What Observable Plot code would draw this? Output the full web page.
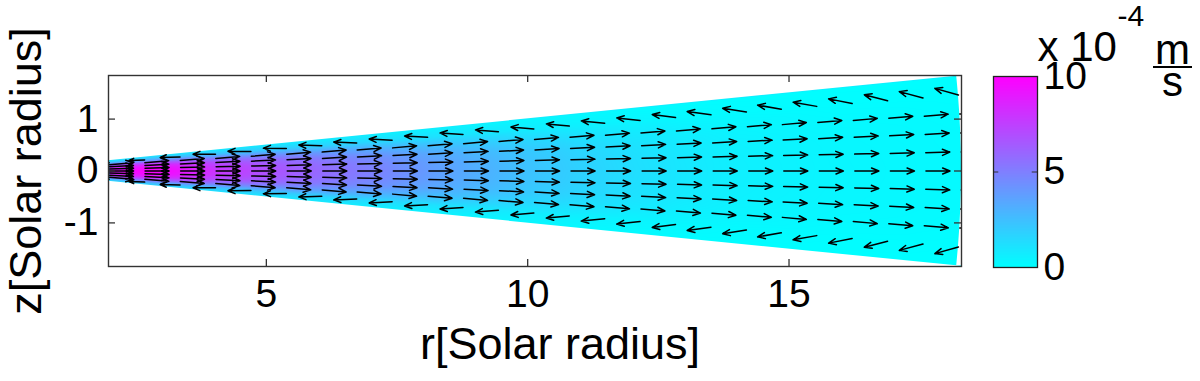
<!DOCTYPE html>
<html><head><meta charset="utf-8">
<script src="https://cdn.jsdelivr.net/npm/d3@7"></script>
<script src="https://cdn.jsdelivr.net/npm/@observablehq/plot@0.6"></script>
<style>
body{margin:0;background:#fff;}
#wrap{position:relative;width:1200px;height:381px;overflow:hidden;background:#fff;}
#wrap svg{position:absolute;left:0;top:0;}
#fracbar{position:absolute;left:1153px;top:66px;width:39px;height:2px;background:#000;}
</style></head><body><div id="wrap"><div id="fracbar"></div></div>
<script>
// ---- axes ----
const xDomain = [1.98, 18.3];
const zDomain = [-1.84, 1.84];
const xTicks = [5, 10, 15];
const zTicks = [-1, 0, 1];
const colorTicks = [0, 5, 10];
const colorDomain = [0, 10];
const xLabel = "r[Solar radius]";
const zLabel = "z[Solar radius]";

// ---- wedge geometry ----
const wedgeHalfAngle = 0.1;
const rInner = 2.0;
const rOuter = 18.3;

// ---- speed field (x 10^-4 m/s), read from the shading ----
const fieldR = [2.0, 2.4, 2.8, 3.2, 3.6, 4.0, 4.5, 5.0, 5.5, 6.0, 6.5, 7.0, 7.5, 8.0, 9.0, 10.0, 11.0, 12.0, 13.0, 14.0, 16.0, 18.3];
const fieldMid = [8.8, 9.6, 10.0, 9.5, 8.8, 8.0, 7.4, 6.9, 6.4, 5.9, 5.4, 5.0, 4.5, 4.0, 3.2, 2.4, 1.8, 1.3, 0.9, 0.6, 0.35, 0.2];
const fieldTheta = [0, 0.02, 0.04, 0.06, 0.08, 0.1];
const fieldShape = [1, 0.97, 0.88, 0.65, 0.3, 0.12];

// ---- velocity arrows (quiver) ----
const arrowR = [2.00, 2.68, 3.36, 4.04, 4.72, 5.40, 6.08, 6.75, 7.43, 8.11, 8.79, 9.47, 10.15, 10.83, 11.51, 12.19, 12.87, 13.55, 14.23, 14.90, 15.58, 16.26, 16.94, 17.62, 18.30];
const forwardTheta = [-0.06, -0.04, -0.02, 0, 0.02, 0.04, 0.06];
const forwardTilt = [-0.085, -0.055, -0.025, 0, 0.025, 0.055, 0.085];
const forwardLength = 0.46;
const backTheta = [-0.08, 0.08];
const backTilt = [-0.05, -0.04, -0.02, 0, 0.01, 0.02, 0.03, 0.04, 0.05, 0.06, 0.07, 0.08, 0.085, 0.095, 0.10, 0.107, 0.133, 0.14, 0.157, 0.173, 0.18, 0.2, 0.257, 0.267, 0.286];
const backLength = [0.25, 0.3, 0.38, 0.43, 0.44, 0.44, 0.44, 0.44, 0.44, 0.44, 0.44, 0.44, 0.44, 0.44, 0.45, 0.45, 0.45, 0.46, 0.46, 0.46, 0.46, 0.46, 0.46, 0.47, 0.47];

// ---- build tables ----
const field = [];
fieldR.forEach((r, i) => {
  fieldTheta.forEach((t, j) => {
    const signs = t === 0 ? [1] : [1, -1];
    for (const s of signs) {
      const th = s * t;
      field.push({x: r * Math.cos(th), z: r * Math.sin(th), v: fieldMid[i] * fieldShape[j]});
    }
  });
});

const arrows = [];
arrowR.forEach((r, k) => {
  forwardTheta.forEach((th, j) => {
    const x = r * Math.cos(th), z = r * Math.sin(th);
    const a = Math.atan(forwardTilt[j]);
    arrows.push({x1: x, y1: z, x2: x + forwardLength * Math.cos(a), y2: z + forwardLength * Math.sin(a)});
  });
  backTheta.forEach((th) => {
    const x = r * Math.cos(th), z = r * Math.sin(th);
    const a = Math.atan(backTilt[k]);
    const s = Math.sign(th);
    arrows.push({x1: x, y1: z, x2: x - backLength[k] * Math.cos(a), y2: z + s * backLength[k] * Math.sin(a)});
  });
});

const edge = [xDomain[0] - 0.2, xDomain[1] + 0.2].map(x => ({x, top: x * Math.tan(wedgeHalfAngle), bottom: -x * Math.tan(wedgeHalfAngle)}));
const arc = [...fieldTheta.slice(1).reverse().map(t => -t), ...fieldTheta].map(t => ({x: rOuter * Math.cos(t), z: rOuter * Math.sin(t)}));

const tickLenX = (zDomain[1] - zDomain[0]) / 191 * 7;
const tickLenY = (xDomain[1] - xDomain[0]) / 853 * 7;

const font = "'Liberation Sans', Arial, sans-serif";
const colorScale = {type: "linear", domain: colorDomain, range: ["#00ffff", "#ff00ff"], interpolate: "rgb"};

const main = Plot.plot({
  width: 1200, height: 381,
  marginLeft: 108, marginRight: 239, marginTop: 75, marginBottom: 115,
  x: {domain: xDomain, axis: null},
  y: {domain: zDomain, axis: null},
  color: colorScale,
  style: {fontFamily: font, background: "transparent", color: "#000", overflow: "visible"},
  marks: [
    Plot.raster(field, {x: "x", y: "z", fill: "v", interpolate: "barycentric", pixelSize: 1}),
    Plot.areaY(edge, {x: "x", y1: "top", y2: () => zDomain[1] + 0.5, fill: "white", clip: true}),
    Plot.areaY(edge, {x: "x", y1: "bottom", y2: () => zDomain[0] - 0.5, fill: "white", clip: true}),
    Plot.areaX(arc, {y: "z", x1: "x", x2: () => xDomain[1] + 0.5, fill: "white", clip: true}),
    Plot.arrow(arrows, {x1: "x1", y1: "y1", x2: "x2", y2: "y2", stroke: "#000", strokeWidth: 1.5, headLength: 8, headAngle: 45, clip: true}),
    Plot.ruleX(xTicks, {x: d => d, y1: () => zDomain[0], y2: () => zDomain[0] + tickLenX, stroke: "#333", strokeWidth: 1.3}),
    Plot.ruleX(xTicks, {x: d => d, y1: () => zDomain[1], y2: () => zDomain[1] - tickLenX, stroke: "#333", strokeWidth: 1.3}),
    Plot.ruleY(zTicks, {y: d => d, x1: () => xDomain[0], x2: () => xDomain[0] + tickLenY, stroke: "#333", strokeWidth: 1.3}),
    Plot.ruleY(zTicks, {y: d => d, x1: () => xDomain[1], x2: () => xDomain[1] - tickLenY, stroke: "#333", strokeWidth: 1.3}),
    Plot.frame({stroke: "#333", strokeWidth: 1.4}),
    Plot.text(xTicks, {x: d => d, text: d => String(d), frameAnchor: "bottom", dy: 40, lineAnchor: "bottom", fontSize: 39, fill: "#000"}),
    Plot.text(zTicks, {y: d => d, text: d => (d < 0 ? "-" + Math.abs(d) : String(d)), frameAnchor: "left", dx: -10, textAnchor: "end", lineAnchor: "middle", fontSize: 39, fill: "#000"}),
    Plot.text([xLabel], {text: d => d, frameAnchor: "bottom", dx: 25, dy: 92, textAnchor: "middle", lineAnchor: "bottom", fontSize: 45, fill: "#000"}),
    Plot.text([zLabel], {text: d => d, frameAnchor: "left", dx: -68, rotate: -90, textAnchor: "middle", lineAnchor: "bottom", fontSize: 45, fill: "#000"})
  ]
});

const bar = Plot.plot({
  width: 1200, height: 381,
  marginLeft: 993, marginRight: 163, marginTop: 76, marginBottom: 114,
  x: {domain: [0, 1], axis: null},
  y: {domain: colorDomain, axis: null},
  color: colorScale,
  style: {fontFamily: font, background: "transparent", color: "#000", overflow: "visible"},
  marks: [
    Plot.raster({fill: (x, y) => y, x1: 0, x2: 1, y1: colorDomain[0], y2: colorDomain[1], pixelSize: 1}),
    Plot.ruleY([5], {x1: () => 0, x2: () => 0.12, stroke: "#333"}),
    Plot.ruleY([5], {x1: () => 1, x2: () => 0.88, stroke: "#333"}),
    Plot.frame({stroke: "#222", strokeWidth: 1.3}),
    Plot.text(colorTicks, {y: d => d, text: d => String(d), frameAnchor: "right", dx: 6, textAnchor: "start", lineAnchor: "middle", fontSize: 39, fill: "#000"}),
    Plot.text(["x 10"], {text: d => d, frameAnchor: "top-right", dx: 0, dy: -16, textAnchor: "start", lineAnchor: "bottom", fontSize: 42, fill: "#000"}),
    Plot.text(["-4"], {text: d => d, frameAnchor: "top-right", dx: 80, dy: -51, textAnchor: "start", lineAnchor: "bottom", fontSize: 30, fill: "#000"}),
    Plot.text(["m"], {text: d => d, frameAnchor: "top-right", dx: 135, dy: -13, textAnchor: "middle", lineAnchor: "bottom", fontSize: 42, fill: "#000"}),
    Plot.text(["s"], {text: d => d, frameAnchor: "top-right", dx: 135, dy: 19, textAnchor: "middle", lineAnchor: "bottom", fontSize: 42, fill: "#000"})
  ]
});

const wrap = document.getElementById("wrap");
wrap.insertBefore(main, wrap.firstChild);
wrap.insertBefore(bar, document.getElementById("fracbar"));
</script>
</body></html>
